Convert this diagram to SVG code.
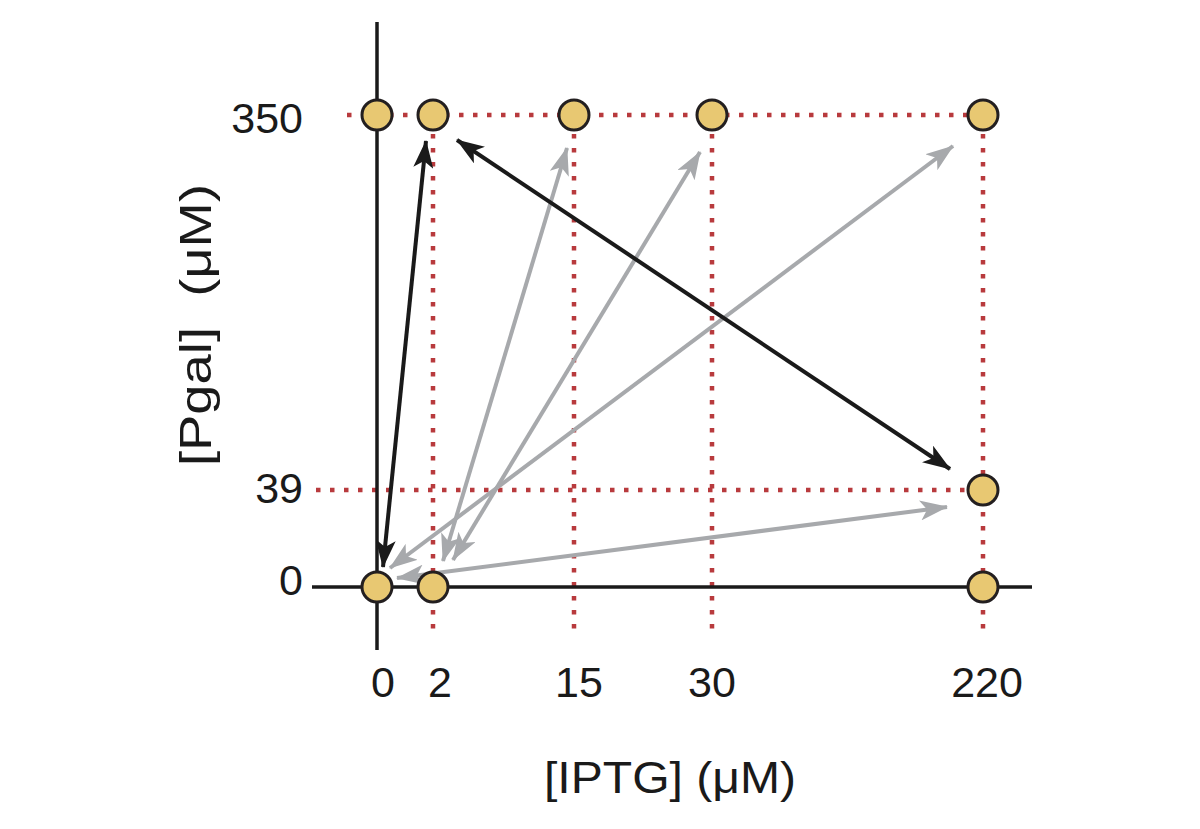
<svg xmlns="http://www.w3.org/2000/svg" width="1200" height="829" viewBox="0 0 1200 829">
<style>
.grid{stroke:#b83a3d;stroke-width:4.5;stroke-dasharray:4.5 9.5;fill:none}
.axis{stroke:#1a1a1a;stroke-width:3.5;fill:none}
.blk{stroke:#1a1a1a;stroke-width:4;fill:none}
.gry{stroke:#a7a9ac;stroke-width:4;fill:none}
.pt{fill:#e8c872;stroke:#231f20;stroke-width:3}
text{font-family:"Liberation Sans",Arial,sans-serif;fill:#1a1a1a}
.tick{font-size:43px}
.lbl{font-size:45px}
</style>
<defs>
<marker id="hb" markerUnits="userSpaceOnUse" markerWidth="28" markerHeight="20" viewBox="0 0 28 20" refX="27" refY="10" orient="auto-start-reverse">
<path d="M0,0 L28,10 L0,20 L7,10 z" fill="#1a1a1a"/>
</marker>
<marker id="hg" markerUnits="userSpaceOnUse" markerWidth="28" markerHeight="20" viewBox="0 0 28 20" refX="27" refY="10" orient="auto-start-reverse">
<path d="M0,0 L28,10 L0,20 L7,10 z" fill="#a7a9ac"/>
</marker>
</defs>
<rect width="1200" height="829" fill="#ffffff"/>
<g id="grid">
<line class="grid" x1="347" y1="115" x2="983" y2="115"/>
<line class="grid" x1="316" y1="490" x2="983" y2="490"/>
<line class="grid" x1="433" y1="120" x2="433" y2="632"/>
<line class="grid" x1="574" y1="120" x2="574" y2="632"/>
<line class="grid" x1="712" y1="120" x2="712" y2="632"/>
<line class="grid" x1="983" y1="120" x2="983" y2="632"/>
</g>
<g id="axes">
<line class="axis" x1="377" y1="22" x2="377" y2="650"/>
<line class="axis" x1="312" y1="587" x2="1032" y2="587"/>
</g>
<g id="connectors">
<line class="gry" x1="443" y1="561" x2="567" y2="148" marker-start="url(#hg)" marker-end="url(#hg)"/>
<line class="gry" x1="453" y1="560" x2="700" y2="152" marker-start="url(#hg)" marker-end="url(#hg)"/>
<line class="gry" x1="390" y1="568" x2="953" y2="146" marker-start="url(#hg)" marker-end="url(#hg)"/>
<line class="gry" x1="397" y1="578" x2="947" y2="507" marker-start="url(#hg)" marker-end="url(#hg)"/>
<line class="blk" x1="383" y1="567" x2="426" y2="141" marker-start="url(#hb)" marker-end="url(#hb)"/>
<line class="blk" x1="457" y1="140" x2="950" y2="469" marker-start="url(#hb)" marker-end="url(#hb)"/>
</g>
<g id="p-0-350"><circle class="pt" cx="377" cy="115" r="15"/></g>
<g id="p-2-350"><circle class="pt" cx="433" cy="115" r="15"/></g>
<g id="p-15-350"><circle class="pt" cx="574" cy="115" r="15"/></g>
<g id="p-30-350"><circle class="pt" cx="712" cy="115" r="15"/></g>
<g id="p-220-350"><circle class="pt" cx="983" cy="115" r="15"/></g>
<g id="p-220-39"><circle class="pt" cx="983" cy="490" r="15"/></g>
<g id="p-0-0"><circle class="pt" cx="377" cy="587" r="15"/></g>
<g id="p-2-0"><circle class="pt" cx="433" cy="587" r="15"/></g>
<g id="p-220-0"><circle class="pt" cx="983" cy="587" r="15"/></g>
<g id="labels">
<text class="tick" x="303" y="133" text-anchor="end">350</text>
<text class="tick" x="303" y="503" text-anchor="end">39</text>
<text class="tick" x="303" y="595" text-anchor="end">0</text>
<text class="tick" x="383" y="697" text-anchor="middle">0</text>
<text class="tick" x="440" y="697" text-anchor="middle">2</text>
<text class="tick" x="579" y="697" text-anchor="middle">15</text>
<text class="tick" x="712" y="697" text-anchor="middle">30</text>
<text class="tick" x="987" y="697" text-anchor="middle">220</text>
<text class="lbl" x="544" y="793" textLength="252" lengthAdjust="spacingAndGlyphs">[IPTG] (μM)</text>
<text class="lbl" transform="translate(211,466) rotate(-90)" textLength="282" lengthAdjust="spacingAndGlyphs" xml:space="preserve">[Pgal]  (μM)</text>
</g>
</svg>
